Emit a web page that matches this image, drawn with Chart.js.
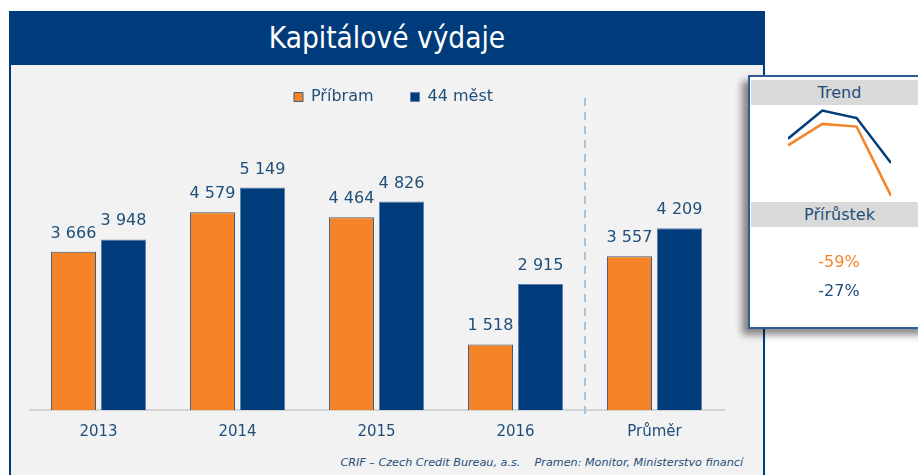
<!DOCTYPE html>
<html>
<head>
<meta charset="utf-8">
<script src="https://cdn.jsdelivr.net/npm/chart.js@4/dist/chart.umd.min.js"></script>
<style>
  html,body{margin:0;padding:0;width:918px;height:475px;overflow:hidden;background:#ffffff;font-family:'DejaVu Sans',Verdana,sans-serif;}
  #frame{position:absolute;left:9px;top:11px;width:756px;height:480px;background:#003B7B;}
  #inner{position:absolute;left:11px;top:65px;width:752px;height:420px;background:#F2F2F2;}
  #title{position:absolute;left:9px;top:11px;width:756px;height:54px;display:flex;align-items:center;justify-content:center;color:#ffffff;font-family:'DejaVu Sans Condensed','DejaVu Sans',sans-serif;font-size:29.5px;}
  #main{position:absolute;left:29px;top:52px;}
  #footer{position:absolute;right:175px;top:456px;font-size:11.2px;line-height:14px;font-style:italic;color:#1F4E79;white-space:pre;}
  #side{position:absolute;left:748px;top:75px;width:178px;height:250px;background:#ffffff;border:2px solid #2E5C96;box-shadow:-6px 6px 7px rgba(0,0,0,0.45);}
  .hdr{position:absolute;left:1px;right:0;height:25px;background:#D9D9D9;color:#1F4E79;font-size:16px;line-height:25px;text-align:center;}
  .val{position:absolute;left:0;right:0;text-align:center;font-size:16px;line-height:20px;}
  #trend{position:absolute;left:788px;top:102px;}
</style>
</head>
<body>
<div id="frame"></div>
<div id="inner"></div>
<div id="title">Kapitálové výdaje</div>
<canvas id="main" width="729" height="402"></canvas>
<div id="footer">CRIF – Czech Credit Bureau, a.s.    Pramen: Monitor, Ministerstvo financí</div>
<div id="side">
  <div class="hdr" style="top:3px;">Trend</div>
  <div class="hdr" style="top:125px;">Přírůstek</div>
  <div class="val" id="g0" style="top:175px;color:#F58428;"></div>
  <div class="val" id="g1" style="top:204px;color:#1F4E79;"></div>
</div>
<canvas id="trend" width="103" height="106"></canvas>
<script>
// ---- data ----
const categories = ['2013', '2014', '2015', '2016', 'Průměr'];
const seriesNames = ['Příbram', '44 měst'];
const pribram = [3666, 4579, 4464, 1518, 3557];
const mest44 = [3948, 5149, 4826, 2915, 4209];
const trendYears = ['2013', '2014', '2015', '2016'];
const trendPribram = [3666, 4579, 4464, 1518];
const trendMest44 = [3948, 5149, 4826, 2915];
const growthLabels = ['-59%', '-27%'];

// ---- styles ----
const ORANGE = '#F58428';
const BLUE = '#003B7B';
const TEXT = '#1F4E79';
const PX_PER_UNIT = 0.0432;

document.getElementById('g0').textContent = growthLabels[0];
document.getElementById('g1').textContent = growthLabels[1];

const fmt = v => String(v).replace(/\B(?=(\d{3})+(?!\d))/g, ' ');

const labelPlugin = {
  id: 'barLabels',
  afterDatasetsDraw(chart) {
    const ctx = chart.ctx;
    ctx.save();
    ctx.font = '16px "DejaVu Sans", Verdana, sans-serif';
    ctx.fillStyle = TEXT;
    ctx.textAlign = 'center';
    ctx.textBaseline = 'alphabetic';
    chart.data.datasets.forEach((ds, di) => {
      const meta = chart.getDatasetMeta(di);
      meta.data.forEach((el, i) => {
        ctx.fillText(fmt(ds.data[i]), el.x, el.y - 14);
      });
    });
    ctx.restore();
  }
};

const separatorPlugin = {
  id: 'separator',
  beforeDatasetsDraw(chart) {
    const x = chart.scales.x;
    const n = chart.data.labels.length;
    const px = (x.getPixelForValue(n - 2) + x.getPixelForValue(n - 1)) / 2;
    const ctx = chart.ctx;
    ctx.save();
    ctx.strokeStyle = '#A9C2E0';
    ctx.lineWidth = 2;
    ctx.setLineDash([8, 6]);
    ctx.beginPath();
    ctx.moveTo(px, chart.chartArea.top - 17);
    ctx.lineTo(px, chart.chartArea.bottom + 5);
    ctx.stroke();
    ctx.restore();
  }
};

const main = new Chart(document.getElementById('main'), {
  type: 'bar',
  data: {
    labels: categories,
    datasets: [
      { label: seriesNames[0], data: pribram, backgroundColor: ORANGE, borderColor: '#3E5A7E', borderWidth: 1 },
      { label: seriesNames[1], data: mest44, backgroundColor: BLUE, borderColor: '#5F80AA', borderWidth: 1 }
    ]
  },
  options: {
    responsive: false,
    animation: false,
    categoryPercentage: 0.72,
    barPercentage: 0.9,
    layout: { padding: 0 },
    plugins: {
      tooltip: { enabled: false },
      legend: {
        position: 'top',
        labels: {
          boxWidth: 9, boxHeight: 9, padding: 37,
          color: TEXT,
          font: { family: '"DejaVu Sans", Verdana, sans-serif', size: 16 }
        }
      }
    },
    scales: {
      x: {
        grid: { display: false, drawTicks: false },
        border: { display: true, color: '#D4D4D4', width: 2 },
        ticks: { color: TEXT, padding: 13, font: { family: '"DejaVu Sans", Verdana, sans-serif', size: 15 } }
      },
      y: {
        position: 'right',
        min: 0,
        max: 7000,
        grid: { display: false, drawTicks: false },
        border: { display: false },
        ticks: { display: false },
        afterFit(scale) { scale.width = 34; }
      }
    }
  },
  plugins: [separatorPlugin, labelPlugin]
});
// keep the scale at the reference's pixels-per-unit
main.options.scales.y.max = (main.chartArea.bottom - main.chartArea.top) / PX_PER_UNIT;
main.update('none');

new Chart(document.getElementById('trend'), {
  type: 'line',
  data: {
    labels: trendYears,
    datasets: [
      { data: trendMest44, borderColor: BLUE, borderWidth: 2.5, pointRadius: 0, tension: 0, clip: false, borderJoinStyle: 'miter' },
      { data: trendPribram, borderColor: ORANGE, borderWidth: 2.5, pointRadius: 0, tension: 0, clip: false, borderJoinStyle: 'miter' }
    ]
  },
  options: {
    responsive: false,
    animation: false,
    layout: { padding: 0 },
    plugins: { legend: { display: false }, tooltip: { enabled: false } },
    scales: {
      x: { display: false },
      y: { display: false, min: 1000, max: 5510 }
    }
  }
});
</script>
</body>
</html>
